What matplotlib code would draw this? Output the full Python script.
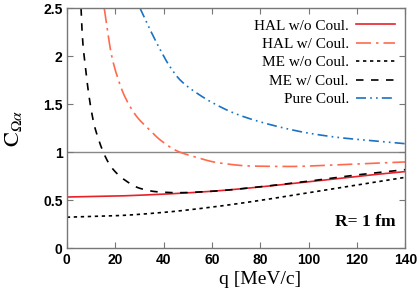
import matplotlib
matplotlib.use("Agg")
import matplotlib.pyplot as plt
import numpy as np

plt.rcParams['mathtext.fontset'] = 'stix'

# Data
q_hal_wo = [0, 20, 40, 60, 80, 100, 120, 140]
c_hal_wo = [0.535, 0.545, 0.565, 0.595, 0.64, 0.695, 0.75, 0.80]

q_hal_w = [15.5, 18.6, 21, 24, 29, 34, 38.6, 46, 52, 63, 77, 92, 110, 125, 140]
c_hal_w = [2.5, 2.0, 1.78, 1.58, 1.37, 1.24, 1.13, 1.01, 0.96, 0.89, 0.857, 0.853, 0.868, 0.885, 0.90]

q_me_wo = [0, 20, 40, 60, 80, 100, 120, 140]
c_me_wo = [0.325, 0.34, 0.375, 0.43, 0.50, 0.58, 0.66, 0.74]

q_me_w = [5.9, 6.6, 7.3, 8.1, 9.1, 10.1, 11.4, 13.2, 15.3, 18.3, 24.1, 30.3, 37.2, 46, 60, 80, 100, 120, 140]
c_me_w = [2.5, 2.14, 1.98, 1.80, 1.60, 1.44, 1.28, 1.13, 0.99, 0.85, 0.71, 0.625, 0.59, 0.58, 0.595, 0.642, 0.70, 0.765, 0.82]

q_pure = [30.3, 34, 38.6, 42.7, 47, 56, 60, 70, 87, 100, 114, 127, 140]
c_pure = [2.5, 2.3, 2.07, 1.89, 1.75, 1.58, 1.52, 1.40, 1.27, 1.20, 1.15, 1.12, 1.09]

labels = ["HAL w/o Coul.", "HAL w/ Coul.", "ME w/o Coul.", "ME w/ Coul.", "Pure Coul."]
xticks = [0, 20, 40, 60, 80, 100, 120, 140]
yticks = [0, 0.5, 1, 1.5, 2, 2.5]
yticklabels = ['0', '0.5', '1', '1.5', '2', '2.5']


def smooth(x, y, n=300):
    x = np.asarray(x, float); y = np.asarray(y, float)
    xs = np.linspace(x[0], x[-1], n)
    # monotone cubic (PCHIP-like) interpolation for smooth drawing
    h = np.diff(x); d = np.diff(y) / h
    m = np.zeros_like(y)
    m[0] = d[0]; m[-1] = d[-1]
    for i in range(1, len(y) - 1):
        if d[i - 1] * d[i] <= 0:
            m[i] = 0
        else:
            w1 = 2 * h[i] + h[i - 1]; w2 = h[i] + 2 * h[i - 1]
            m[i] = (w1 + w2) / (w1 / d[i - 1] + w2 / d[i])
    idx = np.clip(np.searchsorted(x, xs) - 1, 0, len(x) - 2)
    t = (xs - x[idx]) / h[idx]
    h00 = 2 * t**3 - 3 * t**2 + 1; h10 = t**3 - 2 * t**2 + t
    h01 = -2 * t**3 + 3 * t**2; h11 = t**3 - t**2
    ys = h00 * y[idx] + h10 * h[idx] * m[idx] + h01 * y[idx + 1] + h11 * h[idx] * m[idx + 1]
    return xs, ys


fig = plt.figure(figsize=(4.2, 2.94), dpi=100)
ax = fig.add_axes([0.159, 0.155, 0.806, 0.817])

ax.axhline(1.0, color='#888888', lw=1.0, zorder=1)

lw = 1.2
ax.plot(*smooth(q_hal_wo, c_hal_wo), color='#e8202a', lw=lw, label=labels[0])
ax.plot(*smooth(q_hal_w, c_hal_w), color='#ff6a4d', lw=lw, dashes=(9, 3, 1.5, 3), label=labels[1])
ax.plot(*smooth(q_me_wo, c_me_wo), color='black', lw=lw, dashes=(2, 2.2), label=labels[2])
ax.plot(*smooth(q_me_w, c_me_w), color='black', lw=lw, dashes=(4.5, 4.5), label=labels[3])
ax.plot(*smooth(q_pure, c_pure), color='#1a72c4', lw=lw, dashes=(6, 2.5, 1, 2.5, 1, 2.5), label=labels[4])

ax.set_xlim(0, 140)
ax.set_ylim(0, 2.5)
ax.set_xticks(xticks)
ax.set_yticks(yticks)
ax.set_xticklabels([str(t) for t in xticks], fontfamily='Liberation Sans', fontweight='bold', fontsize=10)
ax.set_yticklabels(yticklabels, fontfamily='Liberation Sans', fontweight='bold', fontsize=10)
ax.tick_params(direction='in', top=True, right=True, length=4, width=0.8, color='#777777', pad=3)
for s in ax.spines.values():
    s.set_color('#777777')
    s.set_linewidth(1.0)

ax.set_xlabel('q [MeV/c]', fontfamily='Liberation Serif', fontsize=14)
ax.xaxis.set_label_coords(0.57, -0.095)
ax.set_ylabel(r'$\mathrm{C}_{\Omega\alpha}$', fontsize=16)
ax.yaxis.set_label_coords(-0.125, 0.5)

ax.text(0.97, 0.11, 'R= 1 fm', transform=ax.transAxes, ha='right', va='center',
        fontfamily='Liberation Serif', fontweight='bold', fontsize=12.5)

leg = ax.legend(loc='upper right', frameon=False, markerfirst=False,
                prop={'family': 'Liberation Serif', 'size': 11},
                handlelength=2.5, handletextpad=0.5, labelspacing=0.31,
                borderaxespad=0.3, borderpad=0.4)

fig.savefig('out.png', dpi=100)
